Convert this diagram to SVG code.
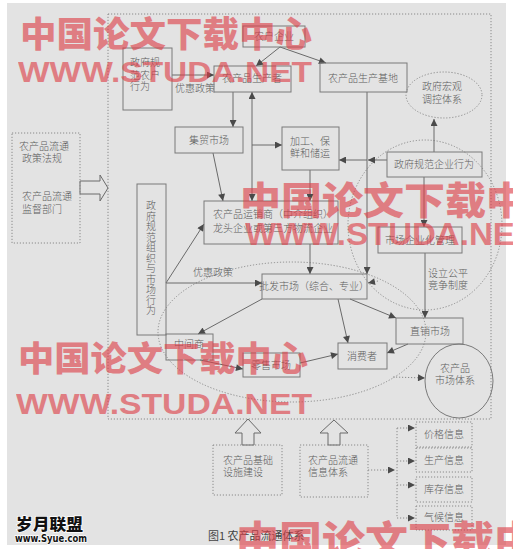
<svg xmlns="http://www.w3.org/2000/svg" width="513" height="549" viewBox="0 0 513 549">
<defs>
<style>
.bg{fill:#e3e3e3}
.box{fill:none;stroke:#7a7a7a;stroke-width:1}
.dot{fill:none;stroke:#8a8a8a;stroke-width:1;stroke-dasharray:1.2 1.8}
.t{font-family:"Noto Sans CJK SC","Noto Sans CJK JP",sans-serif;font-size:10px;font-weight:300;fill:#5c5c5c}
.c{text-anchor:middle}
.ln{fill:none;stroke:#6a6a6a;stroke-width:1}
.ar{marker-end:url(#ah)}
.hol{fill:#e3e3e3;stroke:#6a6a6a;stroke-width:1}
.wm{font-family:"Noto Sans CJK SC",sans-serif;font-weight:900;fill:#de3f48;opacity:.62}
.we{font-family:"Liberation Sans",Arial,sans-serif;font-weight:700;fill:#de3f48;opacity:.62}
</style>
<marker id="ah" viewBox="0 0 10 10" refX="10" refY="5" markerWidth="8" markerHeight="7" markerUnits="userSpaceOnUse" orient="auto-start-reverse"><path d="M0,0L10,5L0,10z" fill="#4a4a4a"/></marker>
</defs>
<rect x="0" y="0" width="513" height="549" fill="#ffffff"/>
<rect class="bg" x="7" y="3" width="499" height="542"/>

<!-- outer dotted frame and rings -->
<g id="frames">
<rect class="dot" x="108" y="14" width="383" height="405"/>
<ellipse class="dot" cx="425" cy="225" rx="77" ry="85"/>
<ellipse class="dot" cx="292" cy="332" rx="134" ry="70"/>
</g>

<!-- connectors -->
<g id="connectors">
<path class="ln ar" d="M280,47L256,66"/>
<path class="ln ar" d="M280,47L326,63"/>
<path class="ln ar" d="M172,75L214,75"/>
<path class="ln ar" d="M233,92L233,127"/>
<path class="ln ar" d="M252,201L252,92" marker-start="url(#ah)"/>
<path class="ln ar" d="M252,145L282,145"/>
<path class="ln ar" d="M213,153L223,201"/>
<path class="ln ar" d="M310,170L310,201"/>
<path class="ln ar" d="M367,92L367,274"/>
<path class="ln ar" d="M387,160L368,160"/>
<path class="ln ar" d="M367,160L339,160"/>
<path class="ln ar" d="M434,152L434,119"/>
<path class="ln ar" d="M424,177L424,227"/>
<path class="ln ar" d="M425,253L425,318"/>
<path class="ln ar" d="M166,283L204,224"/>
<path class="ln ar" d="M166,283L262,283"/>
<path class="ln ar" d="M310,244L310,274"/>
<path class="ln ar" d="M262,299L198,334"/>
<path class="ln ar" d="M338,299L348,343"/>
<path class="ln ar" d="M350,299L396,318"/>
<path class="ln ar" d="M408,344L387,353"/>
<path class="ln ar" d="M200,360L243,369"/>
<path class="ln ar" d="M300,363L338,354"/>
<path class="dot ar" d="M378,281L368,283"/>
<path class="dot ar" d="M393,377L425,378"/>
<path class="dot ar" d="M368,470L395,470"/>
<path class="dot" d="M397,428L397,518"/>
<path class="dot ar" d="M397,428L415,428"/>
<path class="dot ar" d="M397,461L415,461"/>
<path class="dot ar" d="M397,485L415,485"/>
<path class="dot ar" d="M397,518L415,518"/>
<polygon class="hol" points="80,181 100,181 100,175 108,188 100,201 100,194 80,194"/>
<polygon class="hol" points="242,445 242,433 235,433 248,419 261,433 254,433 254,445"/>
<polygon class="hol" points="328,445 328,433 320,433 334,420 348,433 340,433 340,445"/>
<text class="t" x="175" y="92">优惠政策</text>
<text class="t" x="193" y="276">优惠政策</text>
<text class="t" x="428" y="277">设立公平</text>
<text class="t" x="428" y="289">竞争制度</text>
</g>

<g id="n-policy">
<rect class="dot" x="12" y="133" width="68" height="110"/>
<text class="t" x="19" y="150">农产品流通</text>
<text class="t" x="22" y="162">政策法规</text>
<text class="t" x="22" y="200">农产品流通</text>
<text class="t" x="22" y="213">监督部门</text>
</g>
<g id="n-gov-farmer">
<rect class="box" x="123" y="48" width="49" height="62"/>
<text class="t" x="130" y="66">政府规</text>
<text class="t" x="130" y="79">范农户</text>
<text class="t" x="130" y="90">行为</text>
</g>
<g id="n-enterprise">
<rect class="box" x="243" y="26" width="62" height="21"/>
<text class="t c" x="274" y="40">农户企业</text>
</g>
<g id="n-producer">
<rect class="box" x="214" y="66" width="77" height="26"/>
<text class="t c" x="252" y="82">农产品生产者</text>
</g>
<g id="n-base">
<rect class="box" x="320" y="63" width="87" height="29"/>
<text class="t c" x="363" y="82">农产品生产基地</text>
</g>
<g id="n-macro">
<ellipse class="dot" cx="444" cy="95" rx="38" ry="23"/>
<text class="t c" x="442" y="90">政府宏观</text>
<text class="t c" x="442" y="103">调控体系</text>
</g>
<g id="n-fair">
<rect class="box" x="175" y="127" width="68" height="26"/>
<text class="t c" x="209" y="144">集贸市场</text>
</g>
<g id="n-process">
<rect class="box" x="282" y="127" width="57" height="43"/>
<text class="t c" x="310" y="145">加工、保</text>
<text class="t c" x="310" y="157">鲜和储运</text>
</g>
<g id="n-gov-ent">
<rect class="box" x="387" y="152" width="95" height="25"/>
<text class="t c" x="434" y="168">政府规范企业行为</text>
</g>
<g id="n-dealer">
<rect class="box" x="204" y="201" width="134" height="43"/>
<text class="t" x="213" y="218">农产品运销商（中介组织）</text>
<text class="t" x="213" y="232">龙头企业或第三方物流企业</text>
</g>
<g id="n-gov-org">
<rect class="box" x="137" y="184" width="29" height="151"/>
<text class="t c" x="151" y="209">政<tspan x="151" dy="10.5">府</tspan><tspan x="151" dy="10.5">规</tspan><tspan x="151" dy="10.5">范</tspan><tspan x="151" dy="10.5">组</tspan><tspan x="151" dy="10.5">织</tspan><tspan x="151" dy="10.5">与</tspan><tspan x="151" dy="10.5">市</tspan><tspan x="151" dy="10.5">场</tspan><tspan x="151" dy="10.5">行</tspan><tspan x="151" dy="10.5">为</tspan></text>
</g>
<g id="n-corp">
<rect class="box" x="378" y="227" width="84" height="26"/>
<text class="t c" x="420" y="244">市场企业化管理</text>
</g>
<g id="n-wholesale">
<rect class="box" x="262" y="274" width="105" height="25"/>
<text class="t c" x="314" y="290">批发市场（综合、专业）</text>
</g>
<g id="n-direct">
<rect class="box" x="396" y="318" width="67" height="26"/>
<text class="t c" x="430" y="335">直销市场</text>
</g>
<g id="n-middle">
<rect class="box" x="166" y="334" width="47" height="26"/>
<text class="t c" x="189" y="348">中间商</text>
</g>
<g id="n-retail">
<rect class="box" x="243" y="353" width="57" height="24"/>
<text class="t c" x="271" y="369">零售市场</text>
</g>
<g id="n-consumer">
<rect class="box" x="338" y="343" width="49" height="26"/>
<text class="t c" x="362" y="360">消费者</text>
</g>
<g id="n-market">
<ellipse class="box" cx="459" cy="381" rx="34" ry="37"/>
<text class="t c" x="455" y="372">农产品</text>
<text class="t c" x="455" y="384">市场体系</text>
</g>
<g id="n-infra">
<rect class="dot" x="213" y="445" width="69" height="50"/>
<text class="t" x="223" y="464">农产品基础</text>
<text class="t" x="223" y="476">设施建设</text>
</g>
<g id="n-info">
<rect class="dot" x="300" y="445" width="68" height="52"/>
<text class="t" x="308" y="464">农产品流通</text>
<text class="t" x="308" y="476">信息体系</text>
</g>
<g id="n-price">
<rect class="dot" x="416" y="422" width="56" height="25"/>
<text class="t c" x="444" y="438">价格信息</text>
</g>
<g id="n-prod">
<rect class="dot" x="416" y="448" width="56" height="24"/>
<text class="t c" x="444" y="464">生产信息</text>
</g>
<g id="n-stock">
<rect class="dot" x="416" y="477" width="56" height="25"/>
<text class="t c" x="444" y="493">库存信息</text>
</g>
<g id="n-weather">
<rect class="dot" x="416" y="506" width="56" height="24"/>
<text class="t c" x="444" y="521">气候信息</text>
</g>

<text x="208" y="540" font-family="Noto Sans CJK SC, sans-serif" font-size="11" fill="#444">图1 农产品流通体系</text>

<g id="watermarks">
<text class="wm" x="20" y="47" font-size="35" textLength="292" lengthAdjust="spacingAndGlyphs">中国论文下载中心</text>
<text class="we" x="18" y="82" font-size="30" textLength="294" lengthAdjust="spacingAndGlyphs">WWW.STUDA.NET</text>
<text class="wm" x="240" y="214" font-size="38" textLength="328" lengthAdjust="spacingAndGlyphs">中国论文下载中心</text>
<text class="we" x="245" y="245" font-size="32" textLength="290" lengthAdjust="spacingAndGlyphs">WWW.STUDA.NET</text>
<text class="wm" x="18" y="371" font-size="34" textLength="290" lengthAdjust="spacingAndGlyphs">中国论文下载中心</text>
<text class="we" x="16" y="414" font-size="30" textLength="296" lengthAdjust="spacingAndGlyphs">WWW.STUDA.NET</text>
<text class="wm" x="236" y="555" font-size="40" textLength="344" lengthAdjust="spacingAndGlyphs">中国论文下载中心</text>
</g>
<g id="logo">
<text x="16" y="530" font-family="Noto Sans CJK SC, sans-serif" font-weight="900" font-size="16" textLength="67" lengthAdjust="spacingAndGlyphs" fill="#111" stroke="#fff" stroke-width="1.5" paint-order="stroke">岁月联盟</text>
<text x="15" y="542" font-family="DejaVu Sans, sans-serif" font-weight="700" font-size="10" textLength="72" lengthAdjust="spacingAndGlyphs" fill="#111" stroke="#fff" stroke-width="1.5" paint-order="stroke">www.Syue.com</text>
</g>
</svg>
